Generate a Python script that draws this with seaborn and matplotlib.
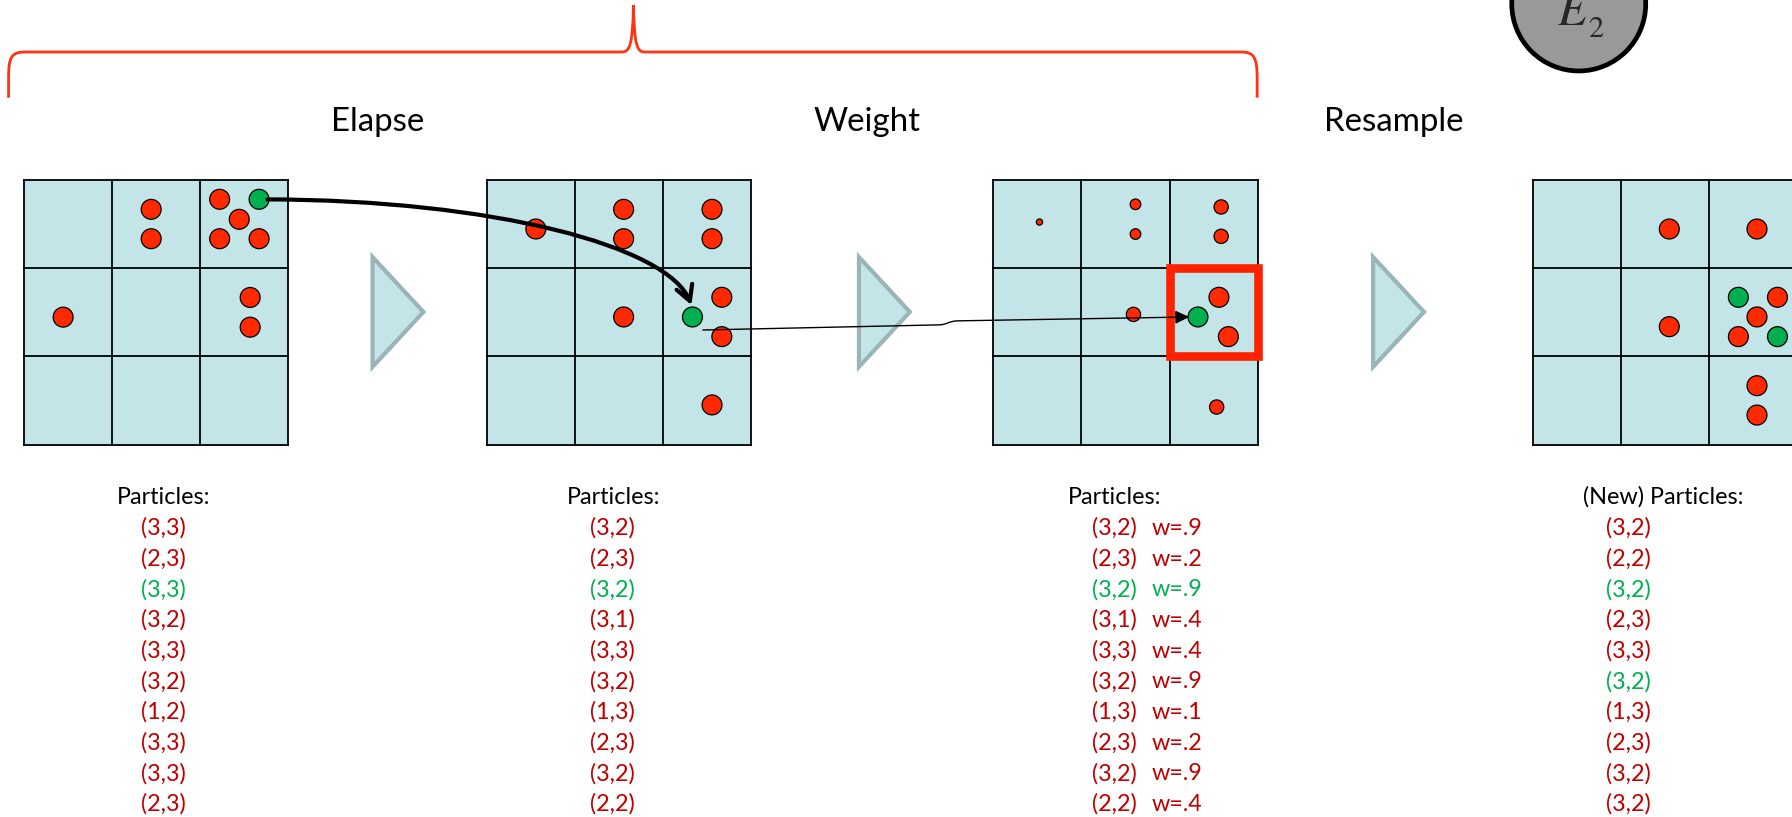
import pandas as pd
import seaborn as sns
import matplotlib.pyplot as plt
from matplotlib.patches import Rectangle, Polygon, Circle, FancyArrowPatch, PathPatch
from matplotlib.path import Path

sns.set_theme(style="white")
plt.rcParams["font.family"] = ["Lato", "DejaVu Sans"]
plt.rcParams["mathtext.fontset"] = "stix"

# ==========================
# Data
# ==========================

step_titles = ["Elapse", "Weight", "Resample"]

elapse_particles = ["(3,3)", "(2,3)", "(3,3)", "(3,2)", "(3,3)",
                    "(3,2)", "(1,2)", "(3,3)", "(3,3)", "(2,3)"]
weight_particles = ["(3,2)", "(2,3)", "(3,2)", "(3,1)", "(3,3)",
                    "(3,2)", "(1,3)", "(2,3)", "(3,2)", "(2,2)"]
weighted_particles = ["(3,2)", "(2,3)", "(3,2)", "(3,1)", "(3,3)",
                      "(3,2)", "(1,3)", "(2,3)", "(3,2)", "(2,2)"]
weights = ["w=.9", "w=.2", "w=.9", "w=.4", "w=.4",
           "w=.9", "w=.1", "w=.2", "w=.9", "w=.4"]
new_particles = ["(3,2)", "(2,2)", "(3,2)", "(2,3)", "(3,3)",
                 "(3,2)", "(1,3)", "(2,3)", "(3,2)", "(3,2)"]

elapse_green = [2]
weight_green = [2]
weighted_green = [2]
new_green = [2, 5]

# dot positions inside each 3x3 grid, in cell units (col, row from top)
grid1_x = [1.444, 1.444, 2.22, 2.442, 2.22, 2.667, 2.667, 2.566, 2.566, 0.446]
grid1_y = [0.333, 0.666, 0.219, 0.446, 0.666, 0.666, 0.219, 1.332, 1.669, 1.555]
grid1_kind = ["red"] * 6 + ["green"] + ["red"] * 3
grid1_w = [".9"] * 10

grid2_x = [0.559, 1.554, 1.554, 2.556, 2.556, 1.554, 2.334, 2.667, 2.667, 2.556]
grid2_y = [0.556, 0.333, 0.666, 0.333, 0.666, 1.553, 1.553, 1.33, 1.776, 2.55]
grid2_kind = ["red"] * 6 + ["green"] + ["red"] * 3
grid2_w = [".9"] * 10

grid3_x = [0.524, 1.612, 1.612, 2.583, 2.583, 2.558, 2.665, 2.32, 1.589, 2.532]
grid3_y = [0.477, 0.276, 0.613, 0.306, 0.639, 1.33, 1.776, 1.553, 1.524, 2.574]
grid3_kind = ["red"] * 7 + ["green"] + ["red"] * 2
grid3_w = [".1", ".2", ".2", ".4", ".4", ".9", ".9", ".9", ".4", ".4"]

grid4_x = [1.547, 2.541, 1.547, 2.33, 2.773, 2.541, 2.33, 2.773, 2.541, 2.541]
grid4_y = [0.556, 0.556, 1.663, 1.33, 1.33, 1.553, 1.776, 1.776, 2.332, 2.665]
grid4_kind = ["red", "red", "red", "green", "red", "red", "red", "green", "red", "red"]
grid4_w = [".9"] * 10

# ==========================
# Layout (canvas units)
# ==========================

W, H = 1568, 715
grid_left = [20.8, 425.7, 869.1, 1341.2]
grid_top = 157.5
cell = 77.2

cell_color = "#C4E5E8"
red_dot = "#FF2A00"
green_dot = "#00B050"
red_text = "#C00000"
green_text = "#00B050"

fig = plt.figure(figsize=(17.92, 8.17), dpi=100)
ax = fig.add_axes([0, 0, 1, 1])

# grids
for gx in grid_left:
    ax.add_patch(Rectangle((gx, grid_top), 3 * cell, 3 * cell,
                           facecolor=cell_color, edgecolor="none", zorder=1))
    for i in range(4):
        ax.plot([gx + i * cell] * 2, [grid_top, grid_top + 3 * cell],
                color="black", lw=1.3, zorder=2, solid_capstyle="projecting")
        ax.plot([gx, gx + 3 * cell], [grid_top + i * cell] * 2,
                color="black", lw=1.3, zorder=2, solid_capstyle="projecting")

# dots
frames = []
for gx, xs, ys, kinds, ws in [
    (grid_left[0], grid1_x, grid1_y, grid1_kind, grid1_w),
    (grid_left[1], grid2_x, grid2_y, grid2_kind, grid2_w),
    (grid_left[2], grid3_x, grid3_y, grid3_kind, grid3_w),
    (grid_left[3], grid4_x, grid4_y, grid4_kind, grid4_w),
]:
    frames.append(pd.DataFrame({
        "x": [gx + c * cell for c in xs],
        "y": [grid_top + r * cell for r in ys],
        "kind": kinds,
        "w": ws,
    }))
dots = pd.concat(frames, ignore_index=True)

sns.scatterplot(
    data=dots, x="x", y="y",
    hue="kind", palette={"red": red_dot, "green": green_dot},
    size="w", sizes={".9": 205, ".4": 105, ".2": 58, ".1": 20},
    edgecolor="black", linewidth=0.9, legend=False, ax=ax, zorder=3
)

# red highlight box on cell (3,2) of weight grid
ax.add_patch(Rectangle((grid_left[2] + 2 * cell, grid_top + cell), cell, cell,
                       facecolor="none", edgecolor="#FF2200", lw=6.2,
                       joinstyle="miter", zorder=5))

# chevrons between grids
for lx in [326, 751.6, 1201.5]:
    ax.add_patch(Polygon([(lx, 225), (lx, 321), (lx + 44.5, 273)],
                         closed=True, facecolor=cell_color,
                         edgecolor="#9BB4B9", lw=3.0, joinstyle="miter", zorder=2))

# brace
brace = Path(
    [(7.5, 85.5), (7.5, 68), (7.5, 50), (10, 45.5), (22, 45.5),
     (544, 45.5), (551, 45.5), (553.5, 40), (554.3, 4.5),
     (555, 40), (557.5, 45.5), (564, 45.5),
     (1086, 45.5), (1097, 45.5), (1100, 50), (1100, 68), (1100, 85.5)],
    [Path.MOVETO, Path.LINETO, Path.CURVE4, Path.CURVE4, Path.CURVE4,
     Path.LINETO, Path.CURVE4, Path.CURVE4, Path.CURVE4,
     Path.CURVE4, Path.CURVE4, Path.CURVE4,
     Path.LINETO, Path.CURVE4, Path.CURVE4, Path.CURVE4, Path.LINETO])
ax.add_patch(PathPatch(brace, facecolor="none", edgecolor="#FF3311", lw=2.0, zorder=2))

# evidence node
ax.add_patch(Circle((1381.4, 3.5), 58.6, facecolor="#999999",
                    edgecolor="black", lw=3.4, zorder=2))
ax.text(1362.5, 22, r"$E$", fontsize=35, ha="left", va="baseline", zorder=3)
ax.text(1389.5, 32.7, r"$2$", fontsize=22, ha="left", va="baseline", zorder=3)

# arrows following the green particle
path1 = Path([(234, 174.5), (430, 175), (585, 215), (605, 267)],
             [Path.MOVETO, Path.CURVE4, Path.CURVE4, Path.CURVE4])
ax.add_patch(FancyArrowPatch(path=path1,
                             arrowstyle="->,head_length=11,head_width=6",
                             mutation_scale=1, color="black", lw=3.0,
                             capstyle="round", zorder=6))

path2 = Path([(615, 288.8), (822, 284.3), (829, 284), (830, 281), (838, 280.8),
              (1040.7, 277.4)],
             [Path.MOVETO, Path.LINETO, Path.CURVE4, Path.CURVE4, Path.CURVE4,
              Path.LINETO])
ax.add_patch(FancyArrowPatch(path=path2,
                             arrowstyle="-|>,head_length=8.5,head_width=4",
                             mutation_scale=1, color="black", lw=1.0, zorder=6))

# ==========================
# Text
# ==========================

for label, cx in zip(step_titles, [330.7, 758.4, 1219.7]):
    ax.text(cx, 114.3, label, fontsize=23.8, ha="center", va="baseline", color="black")

headers = ["Particles:", "Particles:", "Particles:", "(New) Particles:"]
entry_left = [123, 516.4, 955.2, 1405.6]
lists = [elapse_particles, weight_particles, weighted_particles, new_particles]
greens = [elapse_green, weight_green, weighted_green, new_green]

for head, lx, items, gidx in zip(headers, entry_left, lists, greens):
    ax.text(lx - 20.7, 441, head, fontsize=16.8, ha="left", va="baseline", color="black")
    for k, item in enumerate(items):
        col = green_text if k in gidx else red_text
        ax.text(lx, 468.1 + 26.84 * k, item, fontsize=16.8,
                ha="left", va="baseline", color=col)

for k, w in enumerate(weights):
    col = green_text if k in weighted_green else red_text
    ax.text(1007.5, 468.1 + 26.84 * k, w, fontsize=16.8,
            ha="left", va="baseline", color=col)

ax.set_xlim(0, W)
ax.set_ylim(H, 0)
ax.axis("off")

plt.savefig("out.png", dpi=100)
plt.close()
